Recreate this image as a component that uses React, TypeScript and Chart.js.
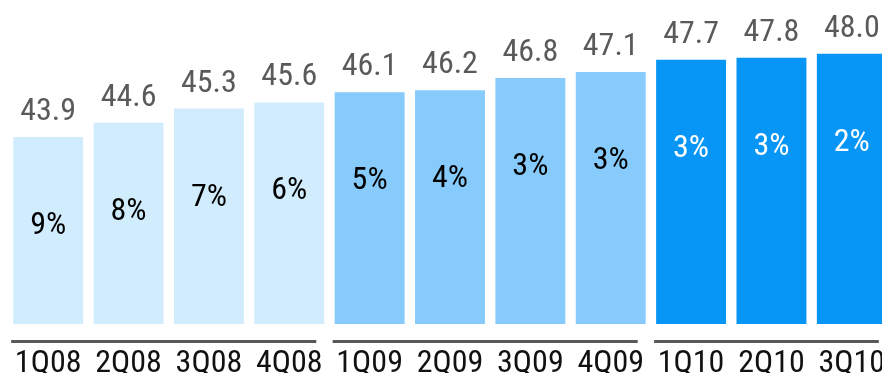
import React, { useEffect, useRef } from "react";
import { Chart, registerables } from "chart.js";

Chart.register(...registerables);

const categories = ["1Q08", "2Q08", "3Q08", "4Q08", "1Q09", "2Q09", "3Q09", "4Q09", "1Q10", "2Q10", "3Q10"];
const values = [43.9, 44.6, 45.3, 45.6, 46.1, 46.2, 46.8, 47.1, 47.7, 47.8, 48.0];
const growthLabels = ["9%", "8%", "7%", "6%", "5%", "4%", "3%", "3%", "3%", "3%", "2%"];
const yearGroup = [0, 0, 0, 0, 1, 1, 1, 1, 2, 2, 2];

const groupColors = ["#d0ecfd", "#86cbfc", "#0795f6"];
const growthColors = ["#000000", "#000000", "#ffffff"];
const FONT = "'Roboto Condensed', 'DejaVu Sans Condensed', sans-serif";

const labelPlugin = {
  id: "barLabels",
  afterDatasetsDraw(chart: any) {
    const ctx = chart.ctx;
    const meta = chart.getDatasetMeta(0);
    ctx.save();
    ctx.font = `32px ${FONT}`;
    ctx.textAlign = "center";
    ctx.textBaseline = "alphabetic";
    meta.data.forEach((bar: any, i: number) => {
      ctx.fillStyle = "#5a5a5a";
      ctx.fillText(values[i].toFixed(1), bar.x, bar.y - 17);
      ctx.fillStyle = growthColors[yearGroup[i]];
      ctx.fillText(growthLabels[i], bar.x, bar.y + 97);
    });
    const groups = Array.from(new Set(yearGroup));
    ctx.strokeStyle = "#595959";
    ctx.lineWidth = 3;
    groups.forEach((g) => {
      const idx = yearGroup.map((v, i) => (v === g ? i : -1)).filter((i) => i >= 0);
      const first = meta.data[idx[0]];
      const last = meta.data[idx[idx.length - 1]];
      ctx.beginPath();
      ctx.moveTo(first.x - 37, 341.5);
      ctx.lineTo(last.x + 27, 341.5);
      ctx.stroke();
    });
    ctx.restore();
  },
};

export default function App() {
  const canvasRef = useRef<HTMLCanvasElement | null>(null);
  useEffect(() => {
    if (!canvasRef.current) return;
    const chart = new Chart(canvasRef.current, {
      type: "bar",
      data: {
        labels: categories,
        datasets: [
          {
            data: values,
            backgroundColor: yearGroup.map((g) => groupColors[g]),
            borderWidth: 0,
            barPercentage: 0.87,
            categoryPercentage: 1,
          },
        ],
      },
      options: {
        responsive: false,
        animation: false,
        devicePixelRatio: 1,
        layout: { padding: { left: 8, right: 0, top: 13, bottom: 0 } },
        plugins: { legend: { display: false }, tooltip: { enabled: false }, title: { display: false } },
        scales: {
          x: {
            grid: { display: false, drawTicks: false },
            border: { display: false },
            ticks: {
              color: "#111111",
              font: { family: FONT, size: 32 },
              padding: 21,
              maxRotation: 0,
              autoSkip: false,
            },
            afterFit: (scale: any) => {
              scale.height = 49;
              scale.paddingLeft = 0;
              scale.paddingRight = 0;
            },
          },
          y: {
            display: false,
            min: 34.7,
            max: 50,
          },
        },
      },
      plugins: [labelPlugin],
    });
    return () => chart.destroy();
  }, []);

  return (
    <div style={{ position: "fixed", left: 0, top: 0, width: 882, height: 373, overflow: "hidden", background: "#fff" }}>
      <canvas ref={canvasRef} width={892} height={373} style={{ display: "block" }} />
    </div>
  );
}
